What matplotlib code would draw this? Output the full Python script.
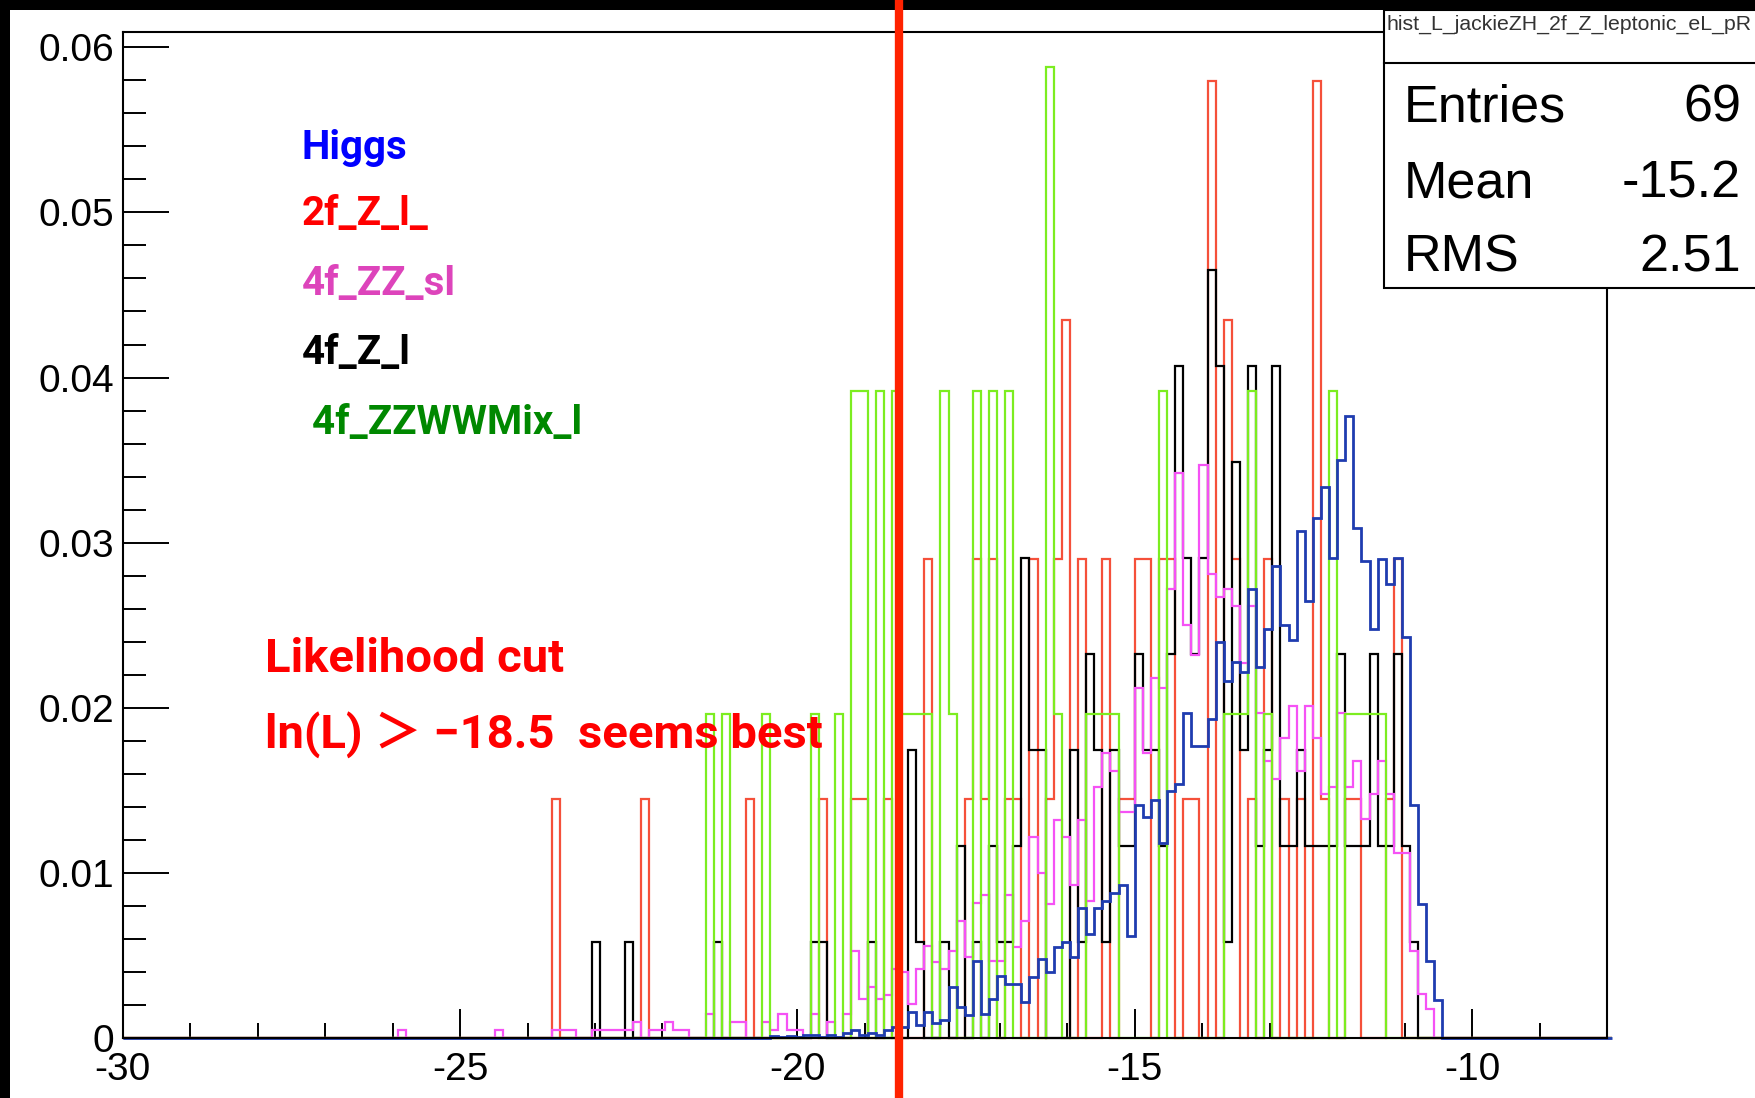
import numpy as np
import matplotlib
matplotlib.use("Agg")
import matplotlib.pyplot as plt
from matplotlib.patches import Rectangle
from matplotlib.lines import Line2D
from matplotlib.ticker import MultipleLocator, FuncFormatter

# ROOT histograms: 0.12 wide bins starting at -30 (axis shown up to -8)
x_lo = -30.0
bin_w = 0.12
n_bins = 184

# 2f_Z_l_ : bin index, entries (each entry = 1/69)
red_bins = [53, 64, 77, 86, 90, 91, 94, 99, 104, 105, 106, 107, 109, 110, 112, 114, 115, 116,
            118, 121, 123, 124, 125, 126, 128, 129, 131, 132, 134, 136, 137, 139, 141, 143,
            145, 147, 148, 151, 152, 156, 157]
red_counts = [1, 1, 1, 1, 1, 1, 1, 2, 1, 2, 1, 2, 1, 1, 2, 1, 2, 3,
              2, 2, 1, 1, 2, 2, 2, 2, 1, 1, 4, 3, 2, 1, 2, 1,
              1, 4, 1, 1, 1, 1, 2]
red_unit = 1 / 69

# 4f_Z_l : bin index, entries (each entry ~ 1/172)
black_bins = [58, 62, 73, 85, 86, 92, 97, 98, 101, 103, 105, 107, 108, 109, 110, 111, 112, 113,
              117, 118, 119, 120, 121, 122, 123, 124, 125, 126, 127, 128, 129, 130, 131, 132,
              133, 134, 135, 136, 137, 138, 139, 140, 141, 142, 143, 144, 145, 146, 147, 148,
              149, 150, 151, 152, 153, 154, 155, 156, 157, 158, 159]
black_counts = [1, 1, 1, 1, 1, 1, 3, 1, 1, 2, 1, 2, 1, 1, 2, 5, 3, 3,
                3, 1, 4, 3, 1, 3, 2, 2, 4, 3, 3, 2, 4, 7, 5, 4,
                5, 8, 7, 1, 6, 3, 7, 2, 3, 7, 2, 2, 3, 2, 2, 2,
                2, 4, 2, 2, 2, 4, 2, 2, 4, 2, 1]
black_unit = 1 / 172

# 4f_ZZWWMix_l : bin index, entries (each entry = 1/51)
green_bins = [72, 74, 79, 85, 88, 90, 91, 93, 95, 96, 97, 98, 99, 101, 102, 105, 107, 109,
              114, 115, 119, 120, 121, 122, 128, 136, 137, 138, 139, 141, 149, 151, 152, 153,
              154, 155]
green_counts = [1, 1, 1, 1, 1, 2, 2, 2, 2, 1, 1, 1, 1, 2, 1, 2, 2, 2,
                3, 1, 1, 1, 1, 1, 2, 1, 1, 1, 2, 1, 2, 1, 1, 1,
                1, 1]
green_unit = 1 / 51

# 4f_ZZ_sl : bin index, normalised content
magenta_bins = [34, 46, 53, 54, 55, 58, 59, 60, 61, 62, 63, 65, 66, 67, 68, 69, 72, 75, 76,
                79, 80, 81, 82, 83, 85, 87, 89] + list(range(90, 162))
magenta_vals = [0.0005, 0.0005, 0.0005, 0.0005, 0.0005, 0.0005, 0.0005, 0.0005, 0.0005,
                0.0005, 0.001, 0.0005, 0.0005, 0.001, 0.0005, 0.0005, 0.0015, 0.001, 0.001,
                0.001, 0.0005, 0.0015, 0.0005, 0.0005, 0.0015, 0.001, 0.0015,
                0.0053, 0.0024, 0.0031, 0.0024, 0.0026, 0.0042, 0.0040, 0.0021, 0.0042, 0.0056,
                0.0046, 0.0042, 0.0053, 0.0071, 0.0049, 0.0082, 0.0087, 0.0047, 0.0047, 0.0087,
                0.0055, 0.0071, 0.0122, 0.0100, 0.0081, 0.0132, 0.0122, 0.0093, 0.0132, 0.0083,
                0.0152, 0.0173, 0.0162, 0.0137, 0.0137, 0.0212, 0.0173, 0.0218, 0.0212, 0.0272,
                0.0342, 0.0250, 0.0232, 0.0347, 0.0281, 0.0267, 0.0272, 0.0262, 0.0227, 0.0262,
                0.0197, 0.0168, 0.0157, 0.0182, 0.0201, 0.0162, 0.0201, 0.0182, 0.0148, 0.0152,
                0.0197, 0.0152, 0.0168, 0.0133, 0.0148, 0.0168, 0.0148, 0.0112, 0.0112, 0.0053,
                0.0027, 0.0018]

# Higgs : contents from bin 80 upward
higgs_first = 80
higgs_vals = [0.00014, 0.00006, 0.00014, 0.00006, 0.0002, 0.0002, 0.0001, 0.0002, 0.0001,
              0.0003, 0.0005, 0.0002, 0.0003, 0.0002, 0.0005, 0.00066, 0.0007, 0.0016, 0.0008,
              0.0016, 0.0009, 0.0011, 0.0031, 0.0019, 0.0014, 0.0047, 0.0015, 0.0024, 0.0038,
              0.0033, 0.0033, 0.0022, 0.0037, 0.0048, 0.0040, 0.0055, 0.0058, 0.0049, 0.0079,
              0.0063, 0.0079, 0.0083, 0.0088, 0.0093, 0.0062, 0.0141, 0.0134, 0.0144, 0.0118,
              0.0150, 0.0154, 0.0197, 0.0177, 0.0177, 0.0193, 0.0240, 0.0216, 0.0228, 0.0222,
              0.0272, 0.0225, 0.0248, 0.0286, 0.0250, 0.0241, 0.0307, 0.0265, 0.0315, 0.0334,
              0.0291, 0.0350, 0.0377, 0.0309, 0.0289, 0.0248, 0.0290, 0.0275, 0.0291, 0.0243,
              0.0141, 0.0081, 0.0047, 0.0023]

cut_value = -18.5

legend_names = ["Higgs", "2f_Z_l_", "4f_ZZ_sl", "4f_Z_l", " 4f_ZZWWMix_l"]
legend_colors = ["#0000ff", "#ff0000", "#dd44bb", "#000000", "#008800"]

stats_title = "hist_L_jackieZH_2f_Z_leptonic_eL_pR"
stats_rows = [("Entries", "69"), ("Mean", "-15.2"), ("RMS", "2.51")]

note_font = ["Roboto", "Noto Sans CJK JP", "DejaVu Sans"]


def make_hist(bins, vals):
    h = np.zeros(n_bins)
    h[np.array(bins)] = vals
    return h


edges = x_lo + bin_w * np.arange(n_bins + 1)
h_red = make_hist(red_bins, np.array(red_counts) * red_unit)
h_black = make_hist(black_bins, np.array(black_counts) * black_unit)
h_green = make_hist(green_bins, np.array(green_counts) * green_unit)
h_mag = make_hist(magenta_bins, magenta_vals)
h_higgs = make_hist(list(range(higgs_first, higgs_first + len(higgs_vals))), higgs_vals)

W, H = 1756, 1098
fig = plt.figure(figsize=(W / 100, H / 100), dpi=100)
fig.patch.set_facecolor("white")

ax = fig.add_axes([122.7 / W, 1 - 1038.3 / H, (1607 - 122.7) / W, (1038.3 - 32.3) / H])
ax.set_xlim(-30, -8)
ax.set_ylim(0, 0.0609)

ax.stairs(h_red, edges, color="#f5503a", lw=1.6, baseline=0, clip_on=False, zorder=2)
ax.stairs(h_black, edges, color="black", lw=1.6, baseline=0, clip_on=False, zorder=2.1)
ax.stairs(h_mag, edges, color="#f552f5", lw=1.6, baseline=0, clip_on=False, zorder=2.2)
ax.stairs(h_green, edges, color="#7ced20", lw=1.6, baseline=0, clip_on=False, zorder=2.3)
ax.stairs(h_higgs, edges, color="#1f3cb0", lw=2.0, baseline=0, clip_on=False, zorder=2.4)

for s in ax.spines.values():
    s.set_linewidth(1.5)

ax.xaxis.set_major_locator(MultipleLocator(5))
ax.xaxis.set_minor_locator(MultipleLocator(1))
ax.yaxis.set_major_locator(MultipleLocator(0.01))
ax.yaxis.set_minor_locator(MultipleLocator(0.002))
ax.xaxis.set_major_formatter(FuncFormatter(lambda v, p: "%d" % round(v)))
ax.yaxis.set_major_formatter(FuncFormatter(lambda v, p: "0" if abs(v) < 1e-9 else "%.2f" % v))
ax.tick_params(axis="x", which="major", direction="in", length=21, width=1.4,
               labelsize=28, pad=10, top=False)
ax.tick_params(axis="x", which="minor", direction="in", length=11, width=1.4, top=False)
ax.tick_params(axis="y", which="major", direction="in", length=33, width=1.4,
               labelsize=28, pad=6, right=False)
ax.tick_params(axis="y", which="minor", direction="in", length=16.5, width=1.4, right=False)
for lab in ax.get_xticklabels() + ax.get_yticklabels():
    lab.set_family("Liberation Sans")

# black band on the left and top of the canvas
fig.add_artist(Rectangle((0, 0), 10 / W, 1, transform=fig.transFigure,
                         facecolor="black", edgecolor="none", zorder=3))
fig.add_artist(Rectangle((0, 1 - 10 / H), 1, 10 / H, transform=fig.transFigure,
                         facecolor="black", edgecolor="none", zorder=3))

# stats box
fig.add_artist(Rectangle((1384 / W, 1 - 288 / H), (W + 20 - 1384) / W, (288 - 10) / H,
                         transform=fig.transFigure, facecolor="white", edgecolor="black",
                         lw=1.5, zorder=4, clip_on=False))
fig.add_artist(Line2D([1384 / W, 1], [1 - 63 / H, 1 - 63 / H], transform=fig.transFigure,
                      color="black", lw=1.5, zorder=4.1))
fig.text(1387 / W, 1 - 24 / H, stats_title, fontsize=15.3, family="Liberation Sans",
         color="#333333", va="center", ha="left", zorder=4.2)
for i, (lab, val) in enumerate(stats_rows):
    yb = 1 - (122 + 75 * i) / H
    fig.text(1404 / W, yb, lab, fontsize=37.5, family="Liberation Sans", va="baseline",
             ha="left", zorder=4.2)
    fig.text(1741 / W, yb, val, fontsize=37.5, family="Liberation Sans", va="baseline",
             ha="right", zorder=4.2)

# legend-like coloured labels
leg_x = [302, 302, 302, 302, 302]
leg_base = [159, 225, 295, 364, 434]
for name, col, lx, lb in zip(legend_names, legend_colors, leg_x, leg_base):
    fig.text(lx / W, 1 - lb / H, name, color=col, fontsize=29, fontweight="bold",
             family=note_font, va="baseline", ha="left", zorder=5)

fig.text(265 / W, 1 - 672 / H, "Likelihood cut", color="#ff0000", fontsize=34,
         fontweight="bold", family=note_font, va="baseline", zorder=5)
fig.text(265 / W, 1 - 748 / H, "ln(L) \uff1e \u221218.5  seems best", color="#ff0000",
         fontsize=34, fontweight="bold", family=note_font, va="baseline", zorder=5)

# cut line across the whole canvas
fig.canvas.draw()
xf = fig.transFigure.inverted().transform(ax.transData.transform((cut_value, 0)))[0]
fig.add_artist(Line2D([xf, xf], [0, 1], transform=fig.transFigure, color="#ff2200",
                      lw=6, zorder=6))

fig.savefig("out.png", dpi=100)
